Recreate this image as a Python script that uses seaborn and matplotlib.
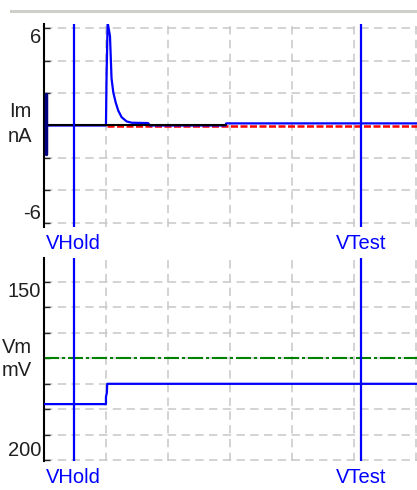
import matplotlib
matplotlib.use("Agg")
import matplotlib.pyplot as plt
from matplotlib.patches import Rectangle
import pandas as pd
import seaborn as sns

# time in ms, one grid division = 10 ms
t_max = 60.2
grid_t = [10, 20, 30, 40, 50, 60]
t_hold = 4.8
t_test = 51.2

# membrane current trace (nA)
im_t = [0.0, 10.0, 10.1, 10.27, 10.65, 10.9, 11.18, 11.56, 11.98, 12.53, 13.34, 14.15, 16.8, 17.1, 29.3, 29.4, 60.2]
im_v = [0.0, 0.0, 3.1, 6.35, 5.5, 2.9, 2.05, 1.43, 0.92, 0.51, 0.25, 0.17, 0.15, 0.0, 0.0, 0.13, 0.13]
# capacitive transient at start
spike_t = [0.25, 0.25]
spike_v = [1.97, -1.78]
# zero baseline and leak reference
base_t = [0.0, 29.3]
leak_t = [10.1, 60.2]
im_ticks = [-6, -4, -2, 0, 2, 4, 6]
im_labels = ["-6", "", "", "", "", "", "6"]

# command voltage (mV)
vm_t = [0.0, 10.0, 10.0, 10.15, 10.2, 60.2]
vm_v = [-184.3, -184.3, -182.3, -181.0, -178.6, -178.6]
vm_ref = -171.43
vm_ticks = [-200 + k * 50 / 7 for k in range(8)]
vm_labels = ["200", "", "", "", "", "", "", "150"]

sns.set_style("white")
plt.rcParams['font.family'] = ['Liberation Sans', 'DejaVu Sans']

W, H = 417, 490
fig = plt.figure(figsize=(W / 100, H / 100), dpi=100)

def px_axes(x0, y0, x1, y1):
    return fig.add_axes([x0 / W, 1 - y1 / H, (x1 - x0) / W, (y1 - y0) / H])

ax1 = px_axes(44, 24, 417, 227)
ax2 = px_axes(44, 258, 417, 461)

grid_kw = dict(color="#c8c8c8", lw=1.1, dashes=(5.5, 3.5), zorder=0)

for ax, ticks, labels in [(ax1, im_ticks, im_labels), (ax2, vm_ticks, vm_labels)]:
    ax.set_xlim(0, t_max)
    for s in ["top", "right", "bottom"]:
        ax.spines[s].set_visible(False)
    ax.spines["left"].set_color("black")
    ax.spines["left"].set_linewidth(1.5)
    ax.set_xticks([])
    ax.set_yticks(ticks, labels)
    ax.tick_params(axis="y", direction="in", length=4, width=1, pad=2,
                   labelsize=14.5, labelcolor="#202020", left=True)
    tl = ax.get_yticklabels()
    tl[0].set_va("bottom")   # lowest tick: text sits above it
    tl[-1].set_va("top")     # highest tick: text hangs below it
    for g in grid_t:
        ax.axvline(g, **grid_kw)

ax1.set_ylim(-6.25, 6.25)
ax2.set_ylim(-200.28, -143.26)

for y in im_ticks:
    if y != 0:
        ax1.axhline(y, **grid_kw)
for y in vm_ticks:
    ax2.axhline(y, **grid_kw)

# current panel
im_df = pd.DataFrame({"t": im_t, "i": im_v})
sns.lineplot(data=im_df, x="t", y="i", ax=ax1, color="#0000ff", lw=1.6,
             estimator=None, sort=False, zorder=3)
sns.lineplot(x=base_t, y=[0, 0], ax=ax1, color="black", lw=1.5,
             estimator=None, sort=False, zorder=4)
sns.lineplot(x=leak_t, y=[-0.05, -0.05], ax=ax1, color="#ff0000", lw=1.8,
             estimator=None, sort=False, zorder=2, dashes=False,
             linestyle=(0, (2.8, 1)))
sns.lineplot(x=spike_t, y=spike_v, ax=ax1, color="#000080", lw=2.5,
             estimator=None, sort=False, zorder=5)

# voltage panel
ax2.axhline(vm_ref, color="#008000", lw=1.5, dashes=(7.2, 1.44, 1.44, 1.44), zorder=2)
vm_df = pd.DataFrame({"t": vm_t, "v": vm_v})
sns.lineplot(data=vm_df, x="t", y="v", ax=ax2, color="#0000ff", lw=1.6,
             estimator=None, sort=False, zorder=3)

for ax in (ax1, ax2):
    ax.set_xlabel("")
    ax.set_ylabel("")
    for t, name in [(t_hold, "VHold"), (t_test, "VTest")]:
        ax.axvline(t, color="#0000ff", lw=1.6, zorder=6)
        ax.text(t, -0.035, name, transform=ax.get_xaxis_transform(),
                ha="center", va="top", color="#0000ff", fontsize=14.5)

# axis titles (partly cut off at the left edge)
fig.text(32 / W, 1 - 111 / H, "Im", ha="right", va="center", fontsize=14.5, color="#202020")
fig.text(32 / W, 1 - 136 / H, "nA", ha="right", va="center", fontsize=14.5, color="#202020")
fig.text(32 / W, 1 - 347 / H, "Vm", ha="right", va="center", fontsize=14.5, color="#202020")
fig.text(32 / W, 1 - 371 / H, "mV", ha="right", va="center", fontsize=14.5, color="#202020")

# grey window border at the top
fig.add_artist(Rectangle((10 / W, 1 - 13 / H), (W - 10) / W, 3 / H,
                         transform=fig.transFigure, color="#d0cec8", lw=0))

fig.savefig("out.png", dpi=100)
